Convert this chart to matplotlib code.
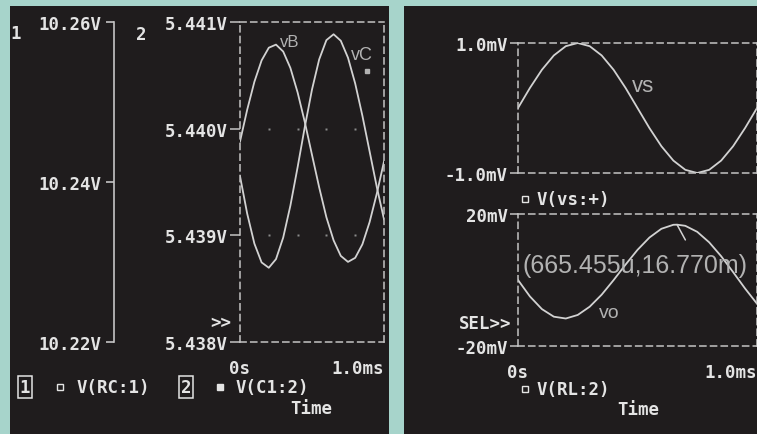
import matplotlib
matplotlib.use("Agg")
import matplotlib.pyplot as plt
from matplotlib.patches import Rectangle
from matplotlib.lines import Line2D

# ---------------- data ----------------
time_ms = [0.00, 0.05, 0.10, 0.15, 0.20, 0.25, 0.30, 0.35, 0.40, 0.45, 0.50,
           0.55, 0.60, 0.65, 0.70, 0.75, 0.80, 0.85, 0.90, 0.95, 1.00]
vB = [5.439879, 5.440178, 5.440440, 5.440640, 5.440759, 5.440788, 5.440723,
      5.440569, 5.440340, 5.440062, 5.439754, 5.439449, 5.439169, 5.438953,
      5.438807, 5.438751, 5.438789, 5.438916, 5.439124, 5.439391, 5.439692]
vC = [5.439555, 5.439203, 5.438922, 5.438746, 5.438696, 5.438777, 5.438979,
      5.439279, 5.439638, 5.440016, 5.440367, 5.440650, 5.440830, 5.440885,
      5.440824, 5.440665, 5.440423, 5.440121, 5.439787, 5.439453, 5.439151]
vs_mV = [0.0, 0.309, 0.588, 0.809, 0.951, 1.0, 0.951, 0.809, 0.588, 0.309, 0.0,
         -0.309, -0.588, -0.809, -0.951, -1.0, -0.951, -0.809, -0.588, -0.309, 0.0]
vo_time_ms = [0.00, 0.05, 0.10, 0.15, 0.20, 0.25, 0.30, 0.35, 0.40, 0.45, 0.50,
              0.55, 0.60, 0.65, 0.665455, 0.70, 0.75, 0.80, 0.85, 0.90, 0.95, 1.00]
vo_mV = [0.0, -4.99, -8.82, -11.12, -11.67, -10.59, -8.09, -4.45, -0.03, 4.66, 9.13,
         12.87, 15.52, 16.73, 16.77, 16.42, 14.59, 11.41, 7.21, 2.40, -2.57, -7.19]
cursor = (0.665455, 16.770)

ax1_ticks = [10.22, 10.24, 10.26]
ax1_labels = ["10.22V", "10.24V", "10.26V"]
ax2_ticks = [5.438, 5.439, 5.440, 5.441]
ax2_labels = ["5.438V", "5.439V", "5.440V", "5.441V"]
grid_t = [0.2, 0.4, 0.6, 0.8]
grid_v = [5.439, 5.440]
vs_ticks = [-1.0, 1.0]
vs_labels = ["-1.0mV", "1.0mV"]
vo_ticks = [-20, 20]
vo_labels = ["-20mV", "20mV"]
x_ticks = [0.0, 1.0]
x_labels = ["0s", "1.0ms"]

# ---------------- style ----------------
TEAL = "#a7d4cb"
DARK = "#1f1c1d"
TXT = "#e4e4e4"
AXC = "#c4c4c4"
TRACE = "#d2d2d2"
ANN = "#b2b2b2"
MONO = dict(family="DejaVu Sans Mono", weight="bold", size=12.5, color=TXT)
SANS = "Liberation Sans"

plt.rcParams["font.family"] = ["DejaVu Sans Mono", "DejaVu Sans"]
plt.rcParams["font.weight"] = "bold"

W, H = 757, 435
fig = plt.figure(figsize=(W / 100, H / 100), dpi=100, facecolor=TEAL)


def fx(x):
    return x / W


def fy(y):
    return 1 - y / H


def add_ax(x0, y0, x1, y1):
    ax = fig.add_axes([x0 / W, 1 - y1 / H, (x1 - x0) / W, (y1 - y0) / H])
    ax.set_facecolor("none")
    return ax


def ftext(x, y, s, ha="left", va="center", **kw):
    props = dict(MONO)
    props.update(kw)
    return fig.text(fx(x), fy(y), s, ha=ha, va=va, **props)


# dark panels
for (x0, x1) in [(10, 389), (404, 757)]:
    fig.add_artist(Rectangle((fx(x0), 0), (x1 - x0) / W, fy(7), transform=fig.transFigure,
                             facecolor=DARK, edgecolor="none", zorder=-5))

DASH = (0, (4, 3))

# ---------------- left panel: axis 1 ----------------
ax1 = add_ax(114, 23, 240, 343)
ax1.set_ylim(10.22, 10.26)
for s in ["top", "right", "bottom"]:
    ax1.spines[s].set_visible(False)
ax1.spines["left"].set_color(AXC)
ax1.spines["left"].set_linewidth(1.2)
ax1.set_xticks([])
ax1.set_yticks(ax1_ticks)
ax1.set_yticklabels(ax1_labels)
ax1.tick_params(axis="y", direction="out", length=6, width=1.2, color=AXC, pad=3,
                labelcolor=TXT, labelsize=12.5)

# ---------------- left panel: axis 2 ----------------
ax2 = add_ax(240, 23, 384, 343)
ax2.set_xlim(0, 1.0)
ax2.set_ylim(5.438, 5.441)
for s in ax2.spines.values():
    s.set_color(AXC)
    s.set_linestyle(DASH)
    s.set_linewidth(1.1)
ax2.set_yticks(ax2_ticks)
ax2.set_yticklabels(ax2_labels)
ax2.set_xticks(x_ticks)
ax2.set_xticklabels(x_labels)
ax2.tick_params(axis="y", direction="out", length=7, width=1.1, color=AXC, pad=1.5,
                labelcolor=TXT, labelsize=12.5)
ax2.tick_params(axis="x", length=0, pad=12, labelcolor=TXT, labelsize=12.5)
ax2.get_xticklabels()[1].set_ha("right")
ax2.get_xticklabels()[1].set_x(1.0)
for gv in grid_v:
    ax2.plot(grid_t, [gv] * len(grid_t), ls="none", marker="s", ms=1.5,
             color="#8a8a8a", mec="none")
ax2.plot(time_ms, vB, color=TRACE, lw=1.3)
ax2.plot(time_ms, vC, color=TRACE, lw=1.3)
ax2.set_clip_on(True)

# ---------------- right panel: vs ----------------
ax3 = add_ax(518, 44, 757, 174)
ax3.set_xlim(0, 1.0)
ax3.set_ylim(-1.0, 1.0)
for s in ax3.spines.values():
    s.set_color(AXC)
    s.set_linestyle(DASH)
    s.set_linewidth(1.1)
ax3.set_xticks([])
ax3.set_yticks(vs_ticks)
ax3.set_yticklabels(vs_labels)
ax3.tick_params(axis="y", direction="out", length=6, width=1.1, color=AXC, pad=1.5,
                labelcolor=TXT, labelsize=12.5)
ax3.plot(time_ms, vs_mV, color=TRACE, lw=1.3)

# ---------------- right panel: vo ----------------
ax4 = add_ax(518, 215, 757, 347)
ax4.set_xlim(0, 1.0)
ax4.set_ylim(-20, 20)
for s in ax4.spines.values():
    s.set_color(AXC)
    s.set_linestyle(DASH)
    s.set_linewidth(1.1)
ax4.set_yticks(vo_ticks)
ax4.set_yticklabels(vo_labels)
ax4.set_xticks(x_ticks)
ax4.set_xticklabels(x_labels)
ax4.tick_params(axis="y", direction="out", length=6, width=1.1, color=AXC, pad=1.5,
                labelcolor=TXT, labelsize=12.5)
ax4.tick_params(axis="x", length=0, pad=12, labelcolor=TXT, labelsize=12.5)
ax4.get_xticklabels()[1].set_ha("right")
ax4.plot(vo_time_ms, vo_mV, color=TRACE, lw=1.3)
ax4.annotate("", xy=cursor, xytext=(6, -11), textcoords="offset points",
             arrowprops=dict(arrowstyle="-", color=TRACE, lw=1.1, shrinkA=0, shrinkB=0))

# ---------------- texts ----------------
ftext(16, 34, "1", ha="center")
ftext(141, 35, "2", ha="center")
ftext(231, 323, ">>", ha="right")

# left legend
box = dict(boxstyle="square,pad=0.12", facecolor="none", edgecolor=TXT, lw=1.1)
ftext(25, 388, "1", ha="center", bbox=box)
fig.add_artist(Line2D([fx(60)], [fy(388)], marker="s", ms=4.5, mfc="none", mec=TXT,
                      mew=1.0, ls="none", transform=fig.transFigure))
ftext(77, 388, "V(RC:1)")
ftext(186, 388, "2", ha="center", bbox=box)
fig.add_artist(Line2D([fx(220)], [fy(388)], marker="s", ms=4.5, mfc=TXT, mec=TXT,
                      ls="none", transform=fig.transFigure))
ftext(236, 388, "V(C1:2)")
ftext(311, 409, "Time", ha="center")

# right legends
fig.add_artist(Line2D([fx(525)], [fy(200)], marker="s", ms=4.5, mfc="none", mec=TXT,
                      mew=1.0, ls="none", transform=fig.transFigure))
ftext(537, 200, "V(vs:+)")
ftext(511, 324, "SEL>>", ha="right")
fig.add_artist(Line2D([fx(525)], [fy(390)], marker="s", ms=4.5, mfc="none", mec=TXT,
                      mew=1.0, ls="none", transform=fig.transFigure))
ftext(537, 390, "V(RL:2)")
ftext(638, 410, "Time", ha="center")

# trace annotations
fig.text(fx(280), fy(47), "vB", family=SANS, weight="normal", size=12, color=ANN, va="baseline")
fig.text(fx(351), fy(60), "vC", family=SANS, weight="normal", size=13, color=ANN, va="baseline")
fig.add_artist(Line2D([fx(367)], [fy(72)], marker="s", ms=3.5, mfc=ANN, mec=ANN,
                      ls="none", transform=fig.transFigure))
fig.text(fx(632), fy(92), "vs", family=SANS, weight="normal", size=16, color=ANN, va="baseline")
fig.text(fx(599), fy(318), "vo", family=SANS, weight="normal", size=14, color=ANN, va="baseline")
fig.text(fx(522), fy(273), "(665.455u,16.770m)", family=SANS, weight="normal", size=18,
         color=ANN, va="baseline")

fig.savefig("out.png", dpi=100, facecolor=TEAL)
